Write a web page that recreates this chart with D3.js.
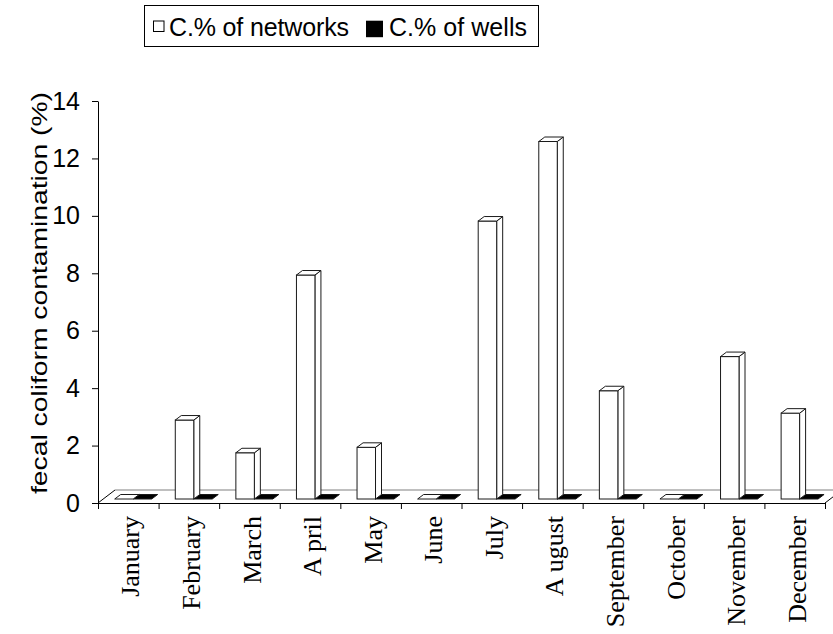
<!DOCTYPE html>
<html>
<head>
<meta charset="utf-8">
<script src="https://cdn.jsdelivr.net/npm/d3@7"></script>
<style>
  html, body { margin: 0; padding: 0; background: #fff; }
  svg { display: block; }
</style>
</head>
<body>
<svg id="chart" width="833" height="634"></svg>
<script>
// Monthly share of samples with fecal coliform contamination
const months = ["January", "February", "March", "April", "May", "June",
                "July", "August", "September", "October", "November", "December"];
const networks = [0, 2.75, 1.61, 7.8, 1.8, 0, 9.68, 12.45, 3.77, 0, 4.96, 2.99];
const wells    = [0, 0, 0, 0, 0, 0, 0, 0, 0, 0, 0, 0];
const yTicks   = [0, 2, 4, 6, 8, 10, 12, 14];
const seriesNames = ["C.% of networks", "C.% of wells"];

const svg = d3.select("#chart");

const plotLeft = 98, plotRight = 825, plotBottom = 503, plotTop = 101;
const x = d3.scaleBand().domain(months).range([plotLeft, plotRight]);
const xEdge = d3.scaleLinear().domain([0, months.length]).range([plotLeft, plotRight]);
const y = d3.scaleLinear().domain([0, 14]).range([plotBottom, plotTop]);

// floor depth and bar depth (oblique projection)
const floorDx = 17, floorDy = -13;
const barDx = 6, barDy = -4.5;
const baseShift = -4;          // bars stand a little behind the front edge
const barOffset = 16.7;        // gap from category edge to first bar
const barW = x.bandwidth() * 0.305;

// ---- floor ----
const floor = svg.append("g");
floor.append("polygon")
  .attr("points", [[plotLeft, plotBottom], [plotRight, plotBottom], [plotRight + floorDx, plotBottom + floorDy], [plotLeft + floorDx, plotBottom + floorDy]].join(" "))
  .attr("fill", "#fff").attr("stroke", "none");
floor.append("line")
  .attr("x1", plotLeft + floorDx).attr("y1", plotBottom + floorDy)
  .attr("x2", plotRight + floorDx).attr("y2", plotBottom + floorDy)
  .attr("stroke", "#808080").attr("stroke-width", 1.2);
floor.append("line")
  .attr("x1", plotLeft).attr("y1", plotBottom).attr("x2", plotLeft + floorDx).attr("y2", plotBottom + floorDy)
  .attr("stroke", "#000").attr("stroke-width", 1);
floor.append("line")
  .attr("x1", plotRight).attr("y1", plotBottom).attr("x2", plotRight + floorDx).attr("y2", plotBottom + floorDy)
  .attr("stroke", "#000").attr("stroke-width", 1);

// ---- 3D box helper ----
function box(g, x0, v, fill) {
  const yBot = y(0) + baseShift;
  const yTop = y(v) + baseShift;
  const stroke = "#1a1a1a";
  if (yBot - yTop > 0.5) {
    g.append("polygon")
      .attr("points", [[x0 + barW, yTop], [x0 + barW + barDx, yTop + barDy], [x0 + barW + barDx, yBot + barDy], [x0 + barW, yBot]].join(" "))
      .attr("fill", fill).attr("stroke", stroke).attr("stroke-width", 1);
    g.append("rect")
      .attr("x", x0).attr("y", yTop).attr("width", barW).attr("height", yBot - yTop)
      .attr("fill", fill).attr("stroke", stroke).attr("stroke-width", 1);
  }
  g.append("polygon")
    .attr("points", [[x0, yTop], [x0 + barDx, yTop + barDy], [x0 + barW + barDx, yTop + barDy], [x0 + barW, yTop]].join(" "))
    .attr("fill", fill).attr("stroke", stroke).attr("stroke-width", 1);
}

const bars = svg.append("g");
months.forEach((m, i) => {
  const x0 = x(m) + barOffset;
  box(bars, x0 + barW, wells[i], "#000");
  box(bars, x0, networks[i], "#fff");
});

// ---- y axis ----
const yAxis = svg.append("g")
  .attr("transform", `translate(${plotLeft},0)`)
  .call(d3.axisLeft(y).tickValues(yTicks).tickSize(6).tickSizeOuter(0).tickPadding(12));
yAxis.select(".domain").attr("stroke", "#000");
yAxis.selectAll(".tick line").attr("stroke", "#000");
yAxis.selectAll(".tick text")
  .attr("font-family", "Liberation Sans, Arial, sans-serif")
  .attr("font-size", 25).attr("fill", "#000");

// ---- x axis (ticks at category boundaries) ----
const xAxis = svg.append("g")
  .attr("transform", `translate(0,${plotBottom})`)
  .call(d3.axisBottom(xEdge).tickValues(d3.range(months.length + 1)).tickFormat("").tickSize(6).tickSizeOuter(0));
xAxis.select(".domain").attr("stroke", "#000");
xAxis.selectAll(".tick line").attr("stroke", "#000");

const labels = svg.append("g")
  .attr("font-family", "Liberation Serif, Times New Roman, serif")
  .attr("font-size", 26).attr("fill", "#000");
months.forEach(m => {
  const t = labels.append("text")
    .attr("transform", `translate(${x(m) + x.bandwidth() / 2 + 2},516) rotate(-90)`)
    .attr("text-anchor", "end")
    .attr("dy", "0.35em");
  if (m === "April" || m === "August") {
    t.append("tspan").text(m[0]);
    t.append("tspan").attr("dx", 5).text(m.slice(1));
  } else {
    t.text(m);
  }
});

// ---- y title ----
svg.append("text")
  .attr("transform", "translate(47,293) rotate(-90)")
  .attr("text-anchor", "middle")
  .attr("font-family", "Liberation Sans, Arial, sans-serif")
  .attr("font-size", 22)
  .attr("textLength", 402)
  .attr("lengthAdjust", "spacingAndGlyphs")
  .attr("fill", "#000")
  .text("fecal coliform contamination (%)");

// ---- legend ----
const legend = svg.append("g");
legend.append("rect")
  .attr("x", 144.5).attr("y", 5.5).attr("width", 394).attr("height", 41)
  .attr("fill", "#fff").attr("stroke", "#000").attr("stroke-width", 1);
legend.append("rect")
  .attr("x", 153.5).attr("y", 21).attr("width", 10.5).attr("height", 10.5)
  .attr("fill", "#fff").attr("stroke", "#000").attr("stroke-width", 1);
legend.append("rect")
  .attr("x", 366).attr("y", 20.7).attr("width", 17).attr("height", 16.5)
  .attr("fill", "#000");
const legendFont = "Liberation Sans, Arial, sans-serif";
legend.append("text")
  .attr("x", 169).attr("y", 35.5)
  .attr("font-family", legendFont).attr("font-size", 25).attr("fill", "#000")
  .attr("textLength", 180).attr("lengthAdjust", "spacing")
  .text(seriesNames[0]);
legend.append("text")
  .attr("x", 389).attr("y", 35.5)
  .attr("font-family", legendFont).attr("font-size", 25).attr("fill", "#000")
  .attr("textLength", 138).attr("lengthAdjust", "spacing")
  .text(seriesNames[1]);
</script>
</body>
</html>
